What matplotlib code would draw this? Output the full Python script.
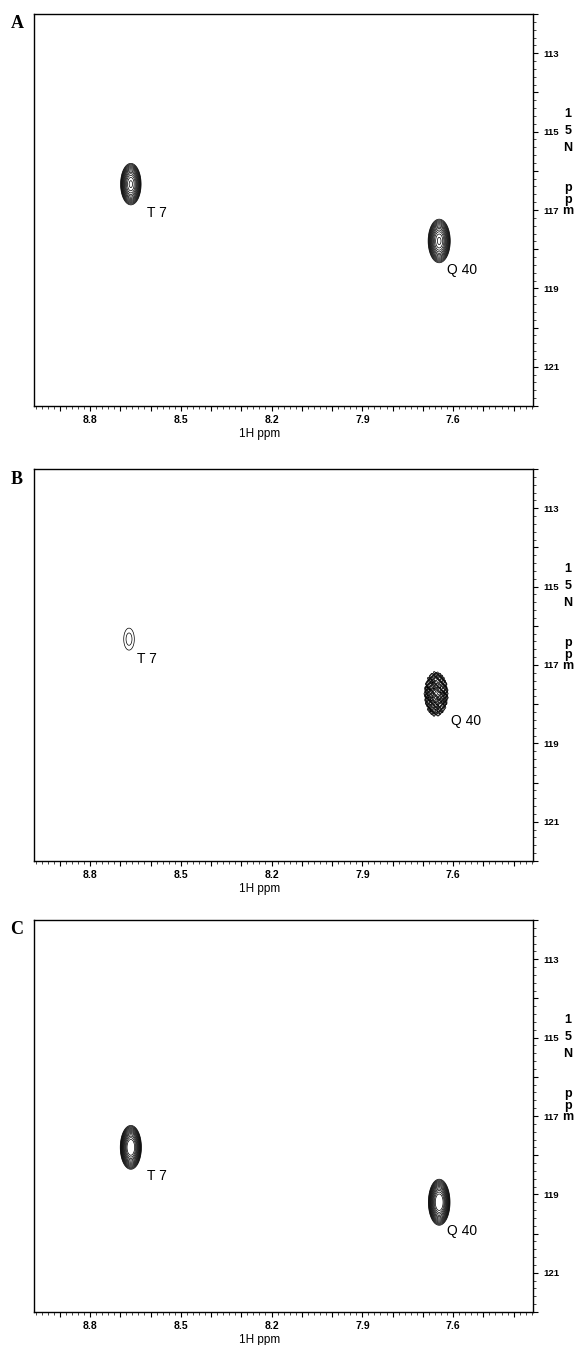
import numpy as np
import matplotlib
matplotlib.use('Agg')
import matplotlib.pyplot as plt
from matplotlib.ticker import FixedLocator, MultipleLocator, FuncFormatter

# peak data (1H ppm, 15N ppm, relative height) for the three spectra
peak_names = ['T 7', 'Q 40']
a_h = [8.665, 7.646]
a_n = [116.34, 117.79]
a_amp = [1.0, 1.0]
b_h = [8.671, 7.656]
b_n = [116.34, 117.74]
b_amp = [0.044, 1.0]
c_h = [8.665, 7.646]
c_n = [117.8, 119.2]
c_amp = [1.5, 1.5]

# line widths (sigma, ppm)
a_sx = [0.0128, 0.0138]
a_sy = [0.20, 0.21]
b_sx = [0.020, 0.0145]
b_sy = [0.32, 0.21]
c_sx = [0.0125, 0.0128]
c_sy = [0.20, 0.21]

# label offsets from the peak (ppm)
a_dh = [-0.086, -0.076]
a_dn = [0.74, 0.74]
b_dh = [-0.059, -0.099]
b_dn = [0.51, 0.69]
c_dh = [-0.086, -0.076]
c_dn = [0.74, 0.74]

x_labels = [8.8, 8.5, 8.2, 7.9, 7.6]
y_labels = [113, 115, 117, 119, 121]
panel_letters = ['A', 'B', 'C']

xlim = (8.985, 7.336)
ylim = (122.0, 112.0)

hx = np.linspace(7.30, 9.02, 1700)
ny = np.linspace(111.8, 122.2, 900)
X, Y = np.meshgrid(hx, ny)


def peak(h, n, amp, sx, sy):
    return amp * np.exp(-0.5 * ((X - h) / sx) ** 2 - 0.5 * ((Y - n) / sy) ** 2)


za = sum(peak(a_h[i], a_n[i], a_amp[i], a_sx[i], a_sy[i]) for i in range(2))
zc = sum(peak(c_h[i], c_n[i], c_amp[i], c_sx[i], c_sy[i]) for i in range(2))
# spectrum B: the Q 40 peak is grainy
ripple = np.sin(470 * X) * np.sin(62 * Y) + 0.5 * np.sin(290 * X + 38 * Y)
zb = peak(b_h[0], b_n[0], b_amp[0], b_sx[0], b_sy[0]) + \
    peak(b_h[1], b_n[1], b_amp[1], b_sx[1], b_sy[1]) * (1 + 0.3 * ripple)

levels = 0.03 * 1.3 ** np.arange(14)

fig = plt.figure(figsize=(5.79, 13.45), dpi=100)
fig.patch.set_facecolor('white')

tops = [14, 469, 920]
H = 1345.0
W = 579.0
left = 34 / W
width = (533 - 34) / W
height = 392 / H

spectra = [
    (za, a_h, a_n, a_dh, a_dn),
    (zb, b_h, b_n, b_dh, b_dn),
    (zc, c_h, c_n, c_dh, c_dn),
]

xfont = {'family': 'Liberation Sans', 'weight': 'bold', 'size': 7.5}
yfont = {'family': 'Liberation Sans', 'weight': 'bold', 'size': 6.8}

for k in range(3):
    z, ph, pn, dh, dn = spectra[k]
    top = tops[k]
    ax = fig.add_axes([left, 1 - (top + 392) / H, width, height])
    ax.contour(X, Y, z, levels=levels, colors='black', linewidths=0.5)
    for i in range(2):
        ax.text(ph[i] + dh[i], pn[i] + dn[i], peak_names[i], fontsize=10,
                family='Liberation Sans', ha='center', va='center')
    ax.set_xlim(xlim)
    ax.set_ylim(ylim)

    ax.xaxis.set_major_locator(FixedLocator(np.round(np.arange(7.4, 9.01, 0.1), 1)))
    ax.xaxis.set_minor_locator(MultipleLocator(0.02))
    ax.xaxis.set_major_formatter(FuncFormatter(
        lambda v, p: ('%.1f' % v) if round(v, 1) in x_labels else ''))
    ax.yaxis.tick_right()
    ax.yaxis.set_major_locator(FixedLocator(np.arange(112, 123, 1)))
    ax.yaxis.set_minor_locator(MultipleLocator(0.2))
    ax.yaxis.set_major_formatter(FuncFormatter(
        lambda v, p: ('%d' % round(v)) if round(v) in y_labels else ''))
    ax.tick_params(axis='x', which='major', direction='out', length=3.5,
                   width=0.8, pad=3, top=False)
    ax.tick_params(axis='x', which='minor', direction='out', length=2,
                   width=0.5, top=False)
    ax.tick_params(axis='y', which='major', direction='out', length=3.5,
                   width=0.8, pad=4, left=False, right=True)
    ax.tick_params(axis='y', which='minor', direction='out', length=2,
                   width=0.5, left=False, right=True)
    for lab in ax.get_xticklabels():
        lab.set_fontproperties(xfont)
    for lab in ax.get_yticklabels():
        lab.set_fontproperties(yfont)
    for s in ax.spines.values():
        s.set_linewidth(1.0)

    # axis titles
    fig.text(260 / W, 1 - (top + 420) / H, '1H ppm', fontsize=8.5,
             family='Liberation Sans', ha='center', va='center')
    for ch, yy in [('1', 100), ('5', 117), ('N', 134), ('p', 174), ('p', 186), ('m', 197)]:
        fig.text(568 / W, 1 - (top + yy) / H, ch, fontsize=9, fontweight='bold',
                 family='Liberation Sans', ha='center', va='center')
    fig.text(17 / W, 1 - (top + 10) / H, panel_letters[k], fontsize=13,
             fontweight='bold', family='Liberation Serif', ha='center', va='center')

fig.savefig('out.png', dpi=100, facecolor='white')
